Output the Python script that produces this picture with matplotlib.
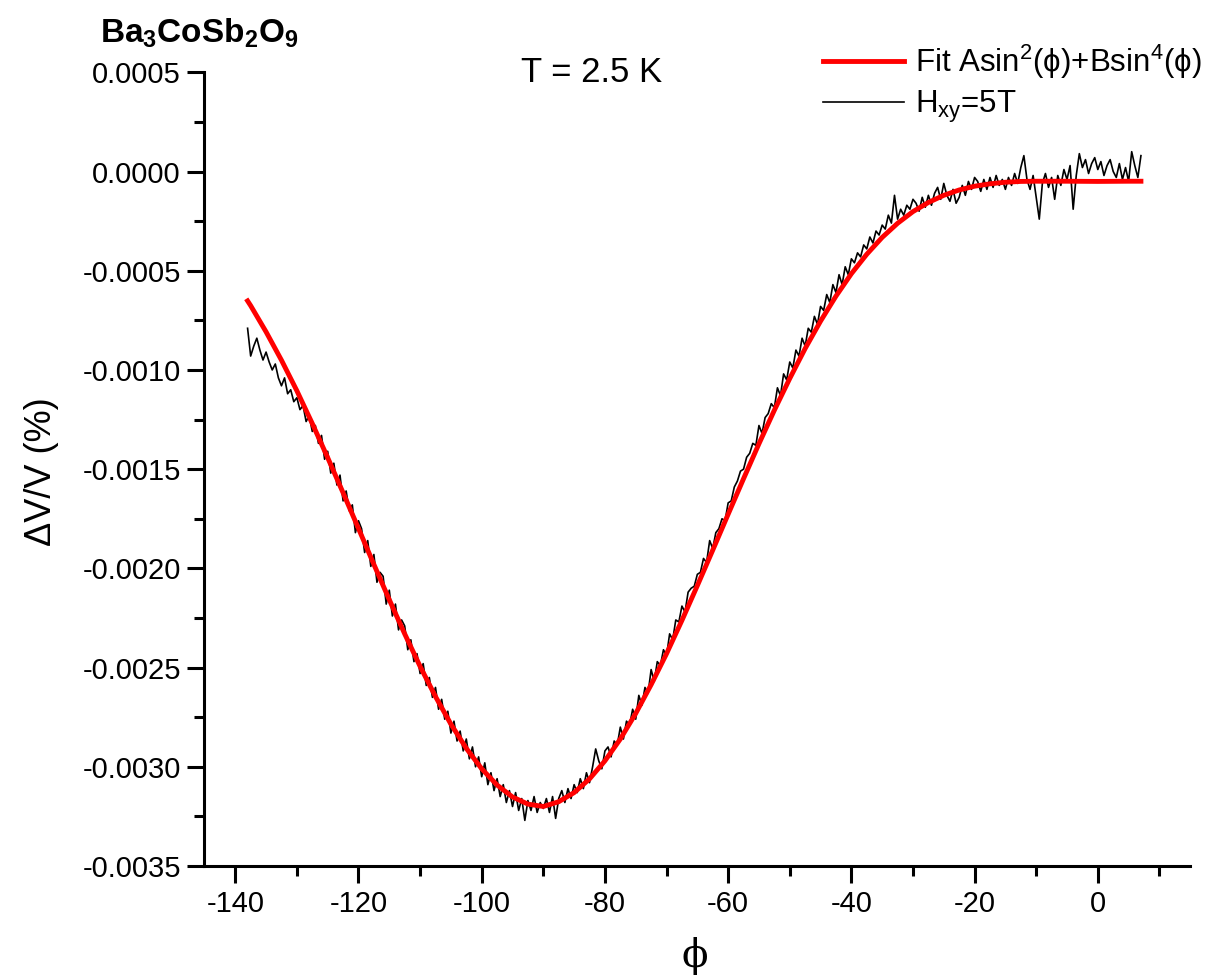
import matplotlib
matplotlib.use('Agg')
import matplotlib.pyplot as plt
import numpy as np
from matplotlib.ticker import MultipleLocator, FuncFormatter

plt.rcParams['font.family'] = ['Liberation Sans', 'DejaVu Sans']
plt.rcParams['mathtext.fontset'] = 'custom'
plt.rcParams['mathtext.rm'] = 'Liberation Sans'
plt.rcParams['mathtext.it'] = 'Liberation Sans:italic'
plt.rcParams['mathtext.bf'] = 'Liberation Sans:bold'

# fit curve (dV/V in units of 1e-5 %)
phi_fit = [-138, -137.5, -135, -132.5, -130, -127.5, -125, -122.5, -120, -117.5,
           -115, -112.5, -110, -107.5, -105, -102.5, -100, -97.5, -95, -92.5,
           -90, -87.5, -85, -82.5, -80, -77.5, -75, -72.5, -70, -67.5, -65,
           -62.5, -60, -57.5, -55, -52.5, -50, -47.5, -45, -42.5, -40, -37.5,
           -35, -32.5, -30, -27.5, -25, -22.5, -20, -17.5, -15, -12.5, -10,
           -5, 0, 5, 7]
dv_fit = [-65.2, -67.6, -80.8, -95.1, -110.5, -127.0, -144.2, -161.9, -179.9, -198.0,
          -215.8, -233.0, -249.4, -264.6, -278.5, -290.7, -301.0, -309.2, -315.2, -318.8,
          -320.0, -317.6, -313.0, -306.1, -297.0, -286.0, -273.1, -258.6, -243.0, -226.2, -208.7,
          -190.8, -172.7, -154.8, -137.2, -120.3, -104.3, -89.2, -75.4, -62.8, -51.5, -41.7,
          -33.2, -26.1, -20.2, -15.6, -12.0, -9.3, -7.4, -6.2, -5.4, -5.0, -4.9,
          -4.9, -5.0, -4.9, -4.9]

# measured trace H_xy = 5T, sampled every 0.5 deg from -138 to 7 (units of 1e-5 %)
dv_raw = [
    -79, -93, -88, -84, -90, -95, -91,
    -96, -100, -97, -104, -108, -104, -112, -110, -116, -114,
    -120, -118, -126, -123, -131, -128, -137, -133, -145, -141,
    -152, -147, -158, -153, -166, -161, -171, -168, -182, -176,
    -180, -192, -186, -199, -193, -207, -202, -204, -218, -211,
    -224, -218, -231, -226, -229, -241, -236, -247, -243, -253,
    -248, -259, -255, -265, -260, -271, -266, -276, -272, -283,
    -277, -287, -282, -292, -286, -296, -290, -300, -295, -305,
    -298, -309, -303, -312, -306, -315, -309, -318, -312, -320,
    -313, -322, -316, -327, -317, -322, -315, -323, -318, -321,
    -316, -323, -315, -326, -316, -312, -318, -311, -316, -309,
    -313, -306, -311, -303, -308, -300, -291, -297, -301, -292,
    -290, -295, -287, -289, -280, -286, -277, -279, -271, -276,
    -264, -269, -260, -263, -251, -257, -247, -249, -241, -244,
    -233, -236, -226, -227, -219, -222, -212, -210, -209, -203,
    -202, -195, -197, -186, -190, -182, -180, -175, -176, -167,
    -166, -159, -156, -151, -150, -144, -142, -137, -138, -128,
    -132, -124, -122, -117, -119, -109, -113, -102, -105, -96,
    -99, -90, -93, -84, -88, -79, -81, -73, -77, -68,
    -70, -62, -66, -57, -61, -52, -57, -48, -52, -44,
    -46, -41, -43, -37, -39, -33, -36, -30, -32, -27,
    -29, -22, -26, -12, -24, -19, -22, -17, -19, -14,
    -16, -20, -13, -18, -12, -17, -11, -8, -14, -6,
    -12, -15, -9, -16, -13, -7, -12, -5, -9, -3,
    -5, -10, -4, -9, -3, -8, -2, -7, -4, -9,
    -3, -7, -1, -6, 2, 8, -4, -9, -2, -13,
    -24, -6, -1, -8, -3, -14, -2, -7, 1, -4,
    3, -19, -2, 9, 2, 6, -1, 4, 7, 1,
    5, -2, 3, 6, 0, -3, 4, -4, 2, -5,
    10, 3, -3, 8,
]
phi_raw = np.linspace(-138, 7, len(dv_raw))

scale = 1e-5

fig = plt.figure(figsize=(12.17, 9.77), dpi=100)
ax = fig.add_axes([0.168, 0.1136, 0.81, 0.8124])

ax.plot(phi_raw, np.array(dv_raw) * scale, color='black', lw=1.2, label='H$_\\mathrm{xy}$=5T', zorder=2)
ax.plot(phi_fit, np.array(dv_fit) * scale, color='#ff0000', lw=3.5,
        label='Fit Asin$^2$(ϕ)+Bsin$^4$(ϕ)', zorder=3, solid_joinstyle='round')

ax.set_xlim(-145, 15)
ax.set_ylim(-0.0035, 0.0005)

for s in ['top', 'right']:
    ax.spines[s].set_visible(False)
for s in ['left', 'bottom']:
    ax.spines[s].set_linewidth(2.2)

ax.xaxis.set_major_locator(MultipleLocator(20))
ax.xaxis.set_minor_locator(MultipleLocator(10))
ax.yaxis.set_major_locator(MultipleLocator(0.0005))
ax.yaxis.set_minor_locator(MultipleLocator(0.00025))
ax.xaxis.set_major_formatter(FuncFormatter(lambda v, p: '%d' % round(v) if v <= 0 else ''))
ax.yaxis.set_major_formatter(FuncFormatter(lambda v, p: '%.4f' % (round(v, 6) + 0.0)))
ax.tick_params(which='major', direction='out', length=12, width=2.2, labelsize=21, pad=5)
ax.tick_params(which='minor', direction='out', length=7, width=2.2)

fig.text(0.034, 0.517, 'ΔV/V (%)', rotation=90, ha='center', va='center', fontsize=26)
fig.text(0.571, 0.022, 'ϕ', ha='center', va='center', fontsize=28, family=['DejaVu Serif'])
fig.text(0.486, 0.926, 'T = 2.5 K', ha='center', va='center', fontsize=25)
fig.text(0.082, 0.966, r'$\mathbf{Ba_3CoSb_2O_9}$', ha='left', va='center', fontsize=24)

handles, labels = ax.get_legend_handles_labels()
fig.legend(handles[::-1], labels[::-1], loc='upper right', bbox_to_anchor=(1.0, 0.972),
           frameon=False, fontsize=22.5, handlelength=2.6, handletextpad=0.35,
           labelspacing=0.25, borderaxespad=0.1)

fig.savefig('out.png', dpi=100)
